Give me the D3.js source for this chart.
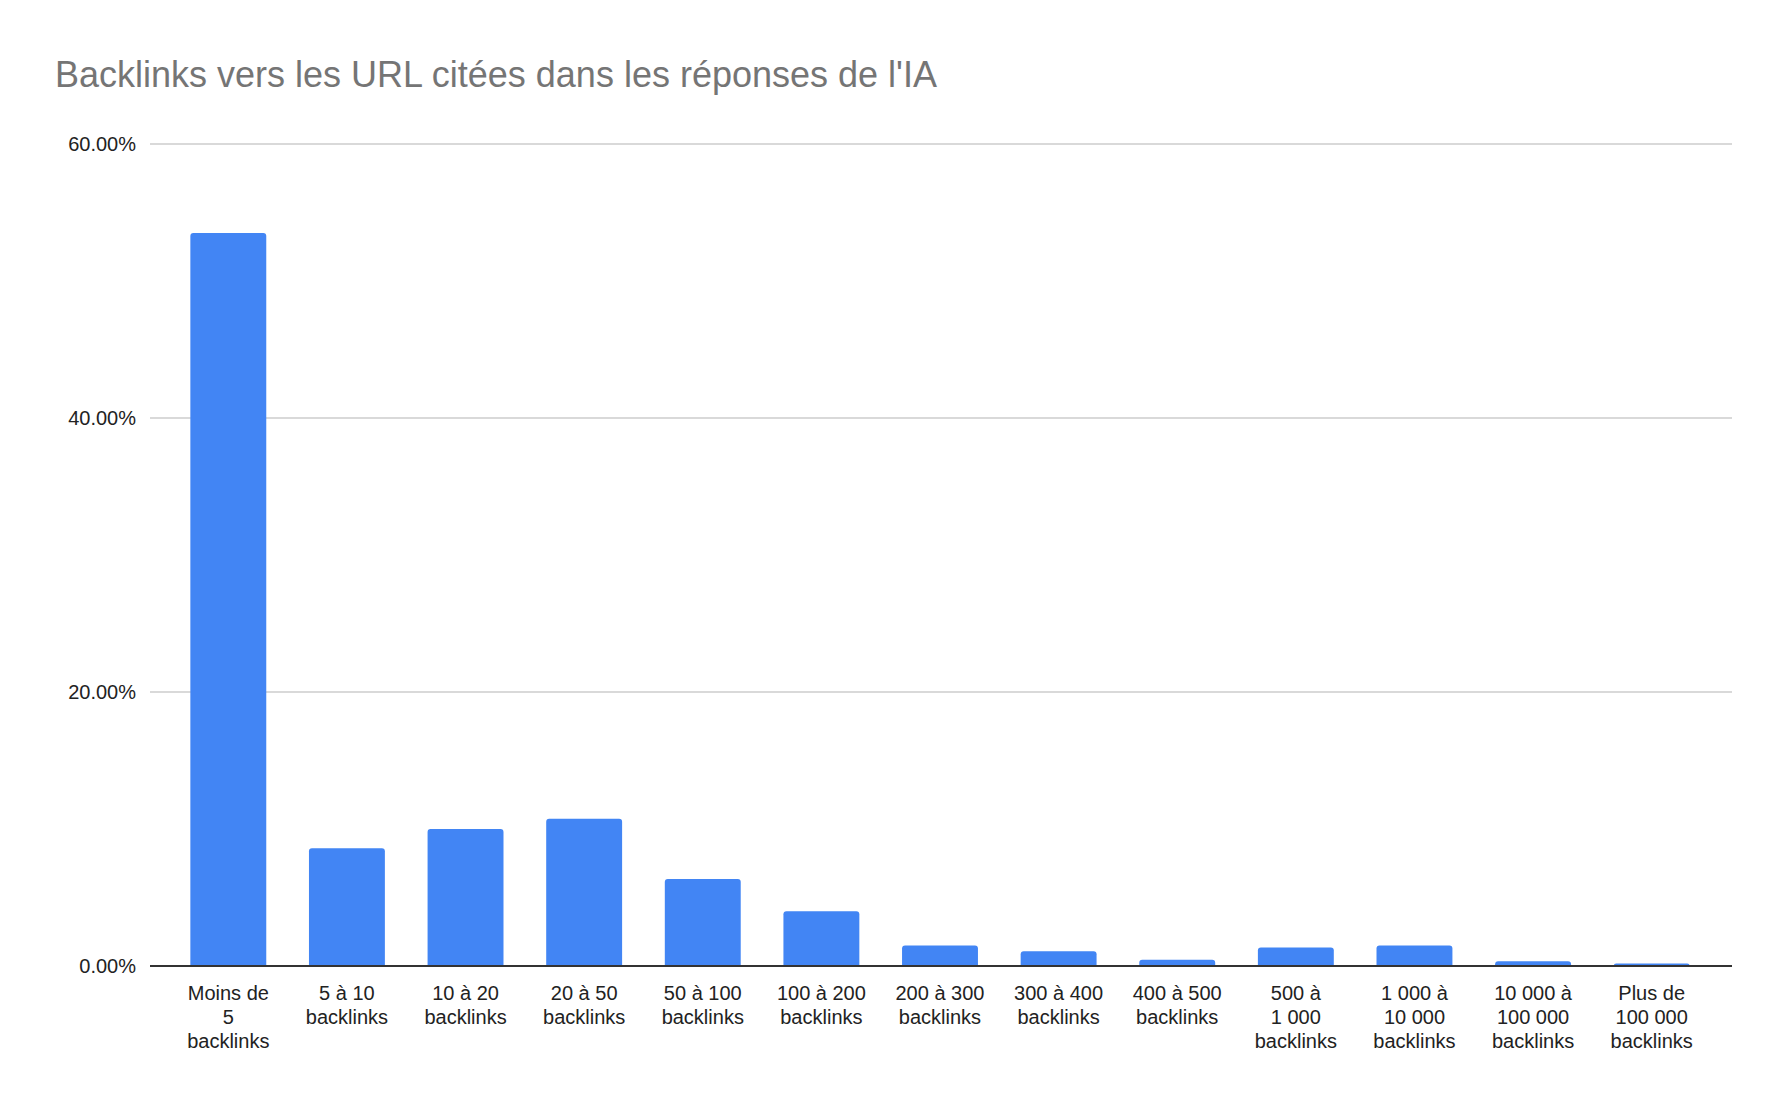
<!DOCTYPE html>
<html>
<head>
<meta charset="utf-8">
<script src="https://cdn.jsdelivr.net/npm/d3@7"></script>
<style>
  body { margin: 0; background: #fff; }
  text { font-family: Arial, "Liberation Sans", sans-serif; }
</style>
</head>
<body>
<svg id="chart" width="1778" height="1100"></svg>
<script>
const categories = [
  ['Moins de', '5', 'backlinks'],
  ['5 à 10', 'backlinks'],
  ['10 à 20', 'backlinks'],
  ['20 à 50', 'backlinks'],
  ['50 à 100', 'backlinks'],
  ['100 à 200', 'backlinks'],
  ['200 à 300', 'backlinks'],
  ['300 à 400', 'backlinks'],
  ['400 à 500', 'backlinks'],
  ['500 à', '1 000', 'backlinks'],
  ['1 000 à', '10 000', 'backlinks'],
  ['10 000 à', '100 000', 'backlinks'],
  ['Plus de', '100 000', 'backlinks'],
];
const shares = [53.5, 8.6, 10.0, 10.75, 6.35, 4.0, 1.5, 1.08, 0.45, 1.35, 1.5, 0.35, 0.18];
const yTicks = [0, 20, 40, 60];

const svg = d3.select('#chart');
const plot = { left: 150, right: 1732, top: 144, bottom: 966 };

svg.append('text')
  .attr('x', 55).attr('y', 87)
  .attr('font-size', 36).attr('fill', '#757575')
  .text("Backlinks vers les URL citées dans les réponses de l'IA");

const y = d3.scaleLinear().domain([0, 60]).range([plot.bottom, plot.top]);
const x = d3.scaleBand()
  .domain(d3.range(categories.length))
  .range([169, 1711])
  .paddingInner(0.36).paddingOuter(0.18);

// gridlines + y labels
const yAxis = svg.append('g');
yAxis.selectAll('line').data(yTicks.filter(d => d > 0)).join('line')
  .attr('x1', plot.left).attr('x2', plot.right)
  .attr('y1', d => y(d)).attr('y2', d => y(d))
  .attr('stroke', '#cccccc').attr('stroke-width', 1.5);
yAxis.selectAll('text').data(yTicks).join('text')
  .attr('x', 136).attr('y', d => y(d) + 7)
  .attr('text-anchor', 'end').attr('font-size', 20).attr('fill', '#222')
  .text(d => d.toFixed(2) + '%');

// bars
svg.append('g').selectAll('path').data(shares).join('path')
  .attr('fill', '#4285f4')
  .attr('d', (d, i) => {
    const x0 = x(i), w = x.bandwidth(), y0 = y(d), b = y(0), r = Math.min(3, b - y0);
    return `M${x0},${b}V${y0 + r}Q${x0},${y0} ${x0 + r},${y0}H${x0 + w - r}Q${x0 + w},${y0} ${x0 + w},${y0 + r}V${b}Z`;
  });

// baseline
svg.append('line')
  .attr('x1', plot.left).attr('x2', plot.right)
  .attr('y1', y(0)).attr('y2', y(0))
  .attr('stroke', '#333').attr('stroke-width', 2);

// x labels
const xl = svg.append('g').selectAll('text').data(categories).join('text')
  .attr('x', (d, i) => x(i) + x.bandwidth() / 2)
  .attr('y', 1000)
  .attr('text-anchor', 'middle').attr('font-size', 20).attr('fill', '#222');
xl.selectAll('tspan').data(d => d).join('tspan')
  .attr('x', function () { return this.parentNode.getAttribute('x'); })
  .attr('dy', (d, i) => i === 0 ? 0 : 24)
  .text(d => d);
</script>
</body>
</html>
